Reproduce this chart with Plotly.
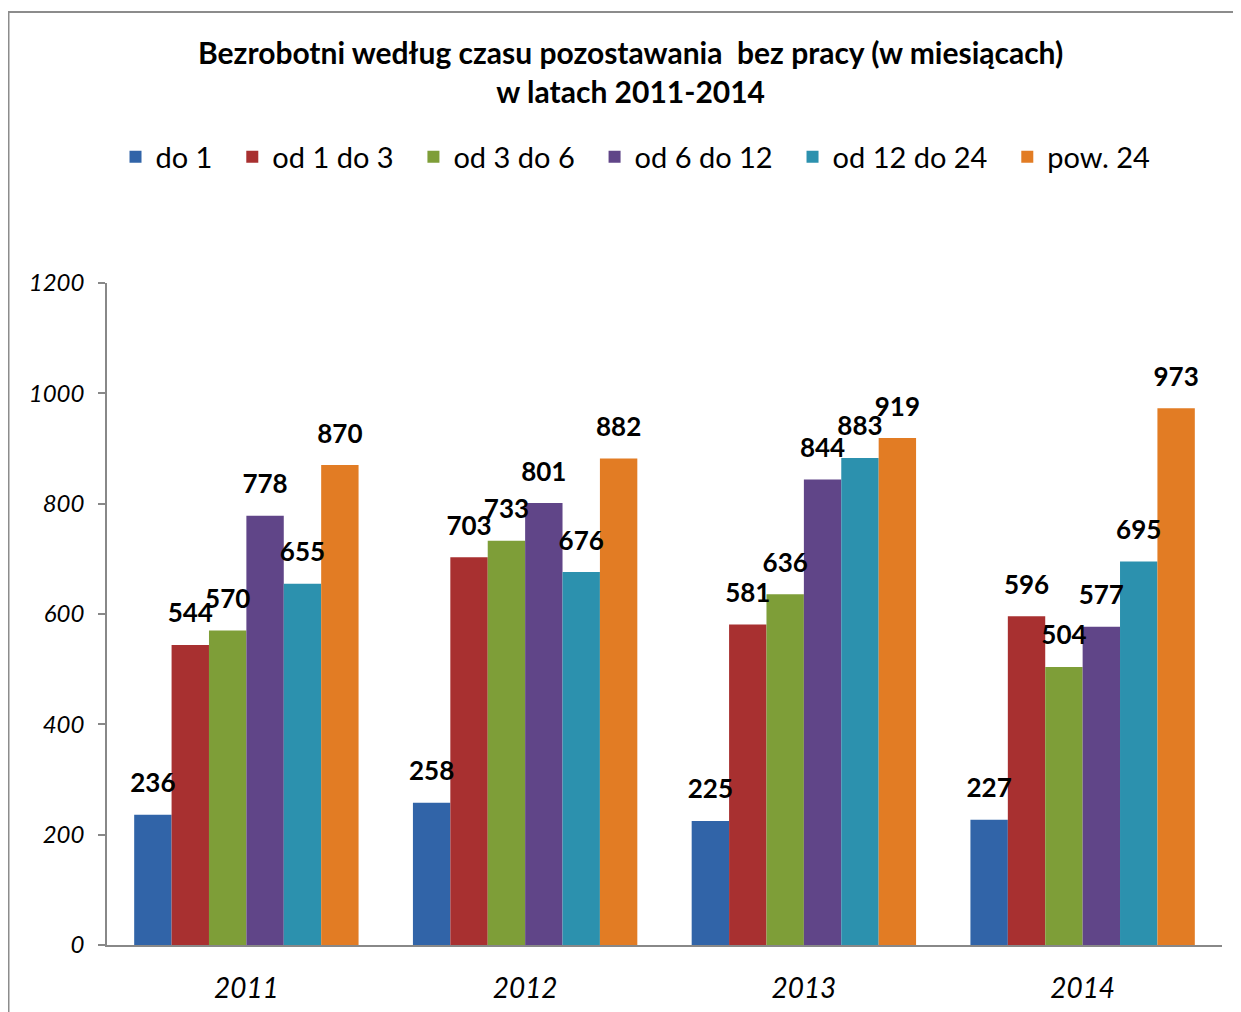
import plotly.graph_objects as go

years = ["2011", "2012", "2013", "2014"]
series_names = ["do 1", "od 1 do 3", "od 3 do 6", "od 6 do 12", "od 12 do 24", "pow. 24"]
do_1 = [236, 258, 225, 227]
od_1_do_3 = [544, 703, 581, 596]
od_3_do_6 = [570, 733, 636, 504]
od_6_do_12 = [778, 801, 844, 577]
od_12_do_24 = [655, 676, 883, 695]
pow_24 = [870, 882, 919, 973]
series_values = [do_1, od_1_do_3, od_3_do_6, od_6_do_12, od_12_do_24, pow_24]
colors = ["#3164a8", "#a83030", "#7e9e38", "#604588", "#2c91ae", "#e27c24"]
y_ticks = [0, 200, 400, 600, 800, 1000, 1200]

FONT = "Lato"
GAP = 0.195

fig = go.Figure()
for i, (name, vals, col) in enumerate(zip(series_names, series_values, colors)):
    legend_name = name if i == len(series_names) - 1 else name + "  "
    fig.add_trace(go.Bar(
        x=years, y=vals, name=legend_name,
        marker=dict(color=col, line=dict(width=0)),
    ))
for name, vals in zip(series_names, series_values):
    fig.add_trace(go.Scatter(
        x=years, y=vals, name=name, mode="markers+text",
        text=[str(v) for v in vals],
        textposition="top center",
        marker=dict(size=24, color="rgba(0,0,0,0)", line=dict(width=0)),
        textfont=dict(family=FONT, size=26, color="black", weight="bold"),
        showlegend=False, cliponaxis=False, hoverinfo="skip",
    ))

W, H = 1233, 1004
L, R, T, B = 99, 19, 275, 67
pw, ph = W - L - R, H - T - B
fx = (0.5 - L) / pw
fy = (H - B - 4) / ph
fy_bot = -(B + 5) / ph

fig.update_layout(
    width=W, height=H,
    margin=dict(l=L, r=R, t=T, b=B, autoexpand=False),
    paper_bgcolor="white", plot_bgcolor="white",
    barmode="group", bargap=GAP, bargroupgap=0,
    scattermode="group", scattergap=GAP,
    font=dict(family=FONT, color="black"),
    title=dict(
        text="Bezrobotni według czasu pozostawania  bez pracy (w miesiącach)<br>w latach 2011-2014",
        x=0.505, xanchor="center", y=1 - 55.5 / H, yanchor="middle",
        font=dict(family=FONT, size=30, color="black", weight="bold"),
    ),
    legend=dict(
        orientation="h", x=0.474, xanchor="center", xref="paper",
        y=(H - B - 149) / ph, yanchor="middle",
        font=dict(family=FONT, size=29, color="black"),
        itemsizing="constant", traceorder="normal",
    ),
    xaxis=dict(
        showline=True, linecolor="#888888", linewidth=1.5,
        ticks="", showgrid=False,
        tickfont=dict(family=FONT, size=28, color="black", style="italic"),
        ticklabelstandoff=18,
    ),
    yaxis=dict(
        range=[0, 1200], tickvals=y_ticks, showgrid=False, zeroline=False,
        showline=True, linecolor="#888888", linewidth=1.5,
        ticks="outside", ticklen=7, tickcolor="#888888", tickwidth=1.5,
        tickfont=dict(family=FONT, size=24, color="black", style="italic"),
        ticklabelstandoff=9,
    ),
    shapes=[dict(
        type="path", xref="paper", yref="paper",
        path=f"M {fx} {fy_bot} L {fx} {fy} L 1.05 {fy}",
        line=dict(color="#8c8c8c", width=2),
    )],
)

fig.write_html("out.html")
